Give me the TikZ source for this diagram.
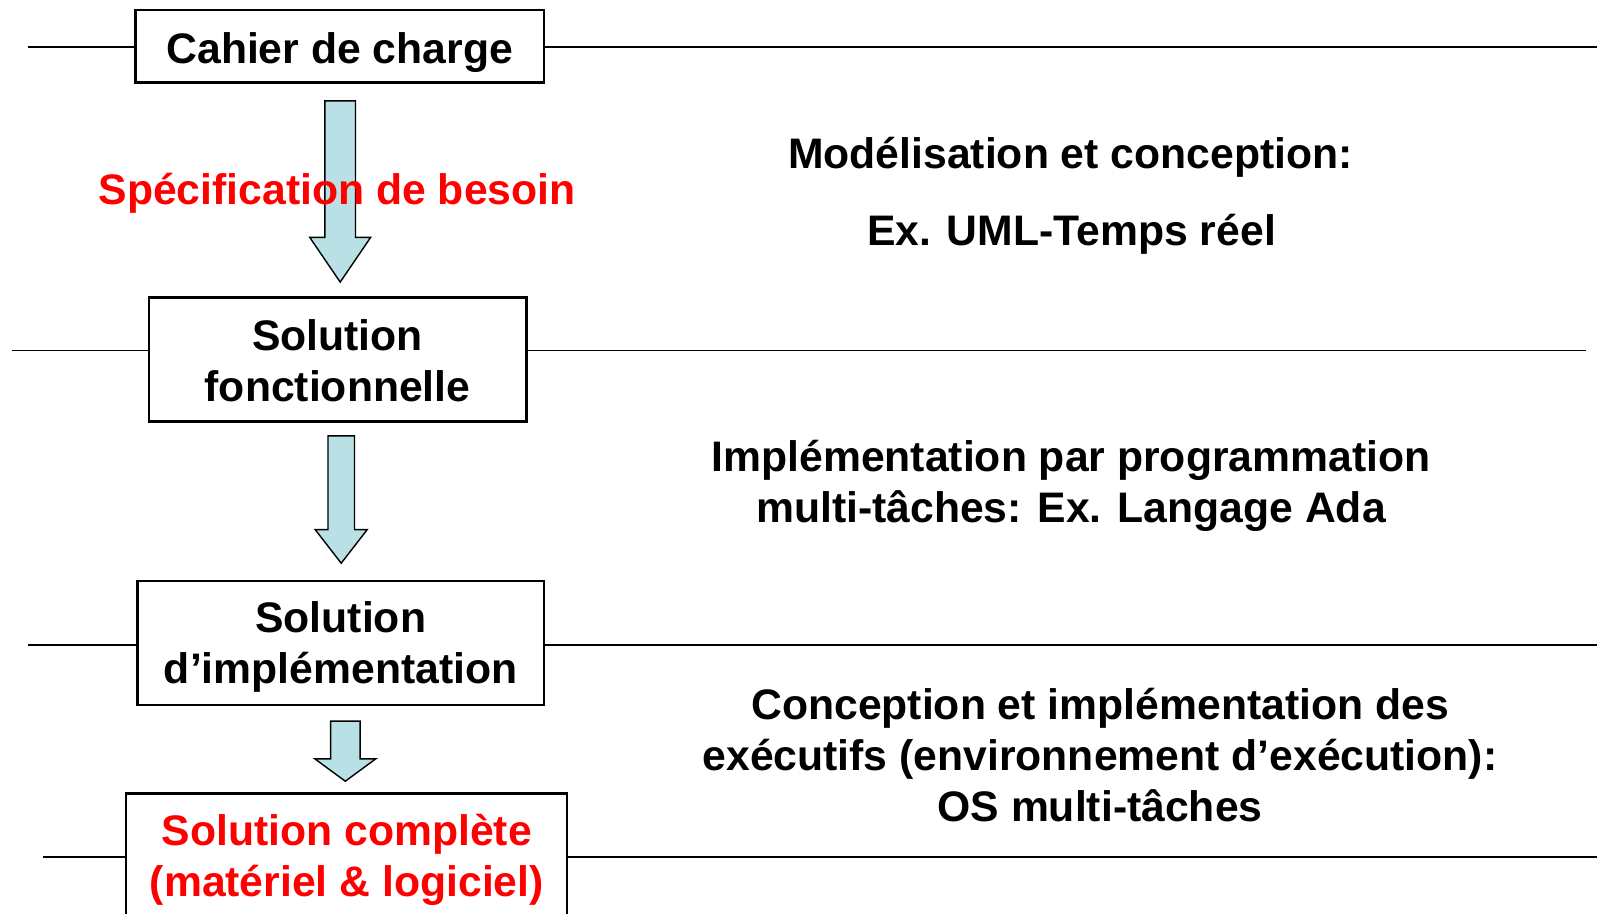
\documentclass[tikz,border=0pt]{standalone}
\usepackage{fontspec}
\setmainfont{Liberation Sans}
\usepackage{tikz}
\definecolor{bleuclair}{RGB}{185,224,228}
\newcommand{\grandtexte}{\fontsize{42.7}{51}\selectfont\bfseries}
\tikzset{
    %Define style for boxes
    boite/.style={
           rectangle,
           draw=black, line width=2.2pt,
           inner sep=0pt,
           text depth=0pt,
           align=center,
           font=\grandtexte},
    %Define style for texts
    texte/.style={
           inner sep=0pt,
           anchor=base,
           align=center,
           font=\grandtexte},
    rouge/.style={
           texte,
           text=red},
    % Define line style
    ligne/.style={
           draw=black,
           line width=1.8pt},
    % Define block arrow style
    fleche/.style={
           draw=black,
           line width=1.4pt,
           line join=miter,
           fill=bleuclair}
}
% block arrow: x, top, start of head, tip, half shaft, half head
\newcommand{\flechebas}[6]{%
  \draw[fleche] ({#1-#5},#2) -- ({#1+#5},#2) -- ({#1+#5},#3) -- ({#1+#6},#3)
     -- (#1,#4) -- ({#1-#6},#3) -- ({#1-#5},#3) -- cycle;}

\begin{document}
\begin{tikzpicture}[x=1pt,y=-1pt]
\useasboundingbox (0,0) rectangle (1597,913);
\clip (0,0) rectangle (1597,913);
 %nodes
\node[boite, minimum width=408.4, minimum height=72.3, text height=35] (cahier) at (339.7,46.4) {Cahier de charge};
\node[boite, minimum width=377.9, minimum height=124, text height=84.4] (fonct) at (337.6,359.5) {Solution\\fonctionnelle};
\node[boite, minimum width=406.4, minimum height=124, text height=81] (implem) at (340.7,642.8) {Solution\\d’implémentation};
\node[boite, minimum width=441, minimum height=124, text height=82, text=red] (complete) at (346.8,855.5) {Solution complète\\(matériel \& logiciel)};
 %lines
\coordinate (g1) at (27.5,46.9);
\coordinate (d1) at (1597,46.9);
\coordinate (g2) at (12.2,350.4);
\coordinate (d2) at (1585.8,350.4);
\coordinate (g3) at (27.5,644.7);
\coordinate (d3) at (1597,644.7);
\coordinate (g4) at (42.8,856.6);
\coordinate (d4) at (1597,856.6);
\draw[ligne] (g1) -- (g1 -| cahier.west) (d1) -- (d1 -| cahier.east);
\draw[ligne] (g2) -- (g2 -| fonct.west) (d2) -- (d2 -| fonct.east);
\draw[ligne] (g3) -- (g3 -| implem.west) (d3) -- (d3 -| implem.east);
\draw[ligne] (g4) -- (g4 -| complete.west) (d4) -- (d4 -| complete.east);
 %arrows
\flechebas{340.2}{100.8}{237.3}{282.1}{15.3}{30.5}
\flechebas{341.2}{435.9}{529.6}{563.2}{13.25}{26}
\flechebas{345.3}{721.1}{758.8}{781.2}{14.75}{30.5}
 %texts
\node[rouge] (specif) at (337.1,204.7) {Spécification de besoin};
\node[texte] (modele) at (1070.4,168.8) {Modélisation et conception:};
\node[texte] (uml) at (1071.5,245.5) {Ex. UML-Temps réel};
\node[texte] (ada) at (1071,522.5) {Implémentation par programmation\\multi-tâches: Ex. Langage Ada};
\node[texte] (os) at (1100,821) {Conception et implémentation des\\exécutifs (environnement d’exécution):\\OS multi-tâches};
\end{tikzpicture}
\end{document}
